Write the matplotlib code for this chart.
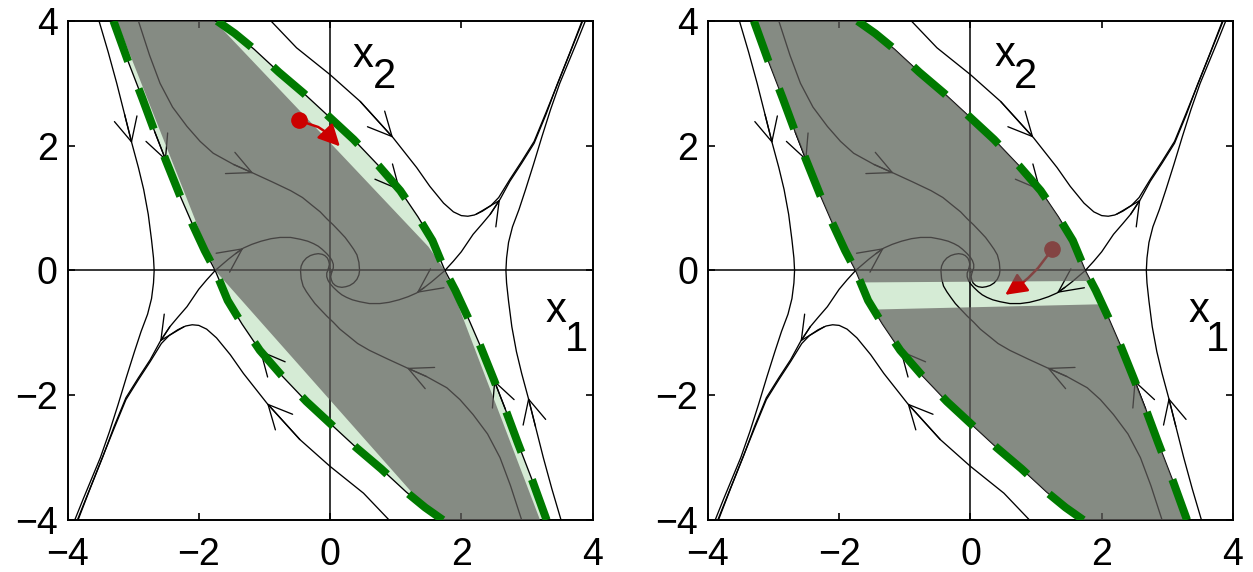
import numpy as np
import matplotlib.pyplot as plt
from matplotlib.patches import Polygon

plt.rcParams['font.family'] = ['Liberation Sans Narrow', 'Liberation Sans', 'DejaVu Sans']
plt.rcParams['lines.scale_dashes'] = False

# ---- trajectories read off the phase portrait (x1, x2) ----
# outer curve on the left, top -> bottom
outer_l_x = [-3.52, -3.38, -3.25, -3.13, -3.02, -2.92, -2.84, -2.77, -2.72, -2.69, -2.68, -2.69, -2.72,
             -2.78, -2.88, -2.98, -3.10, -3.23, -3.36, -3.50, -3.63, -3.76, -3.89]
outer_l_y = [4.0, 3.5, 3.0, 2.5, 2.04, 1.65, 1.30, 0.90, 0.49, 0.20, 0.0, -0.20, -0.45,
             -0.70, -0.98, -1.30, -1.70, -2.15, -2.58, -3.0, -3.33, -3.66, -4.0]
# outer curve on the right, bottom -> top
outer_r_x = [3.52, 3.38, 3.25, 3.13, 3.02, 2.92, 2.84, 2.77, 2.72, 2.69, 2.68, 2.69, 2.72,
             2.78, 2.88, 2.98, 3.10, 3.23, 3.36, 3.50, 3.63, 3.76, 3.89]
outer_r_y = [-4.0, -3.5, -3.0, -2.5, -2.04, -1.65, -1.30, -0.90, -0.49, -0.20, 0.0, 0.20, 0.45,
             0.70, 0.98, 1.30, 1.70, 2.15, 2.58, 3.0, 3.33, 3.66, 4.0]

# unstable manifolds of the saddles, outward branches
unst_l_x = [-1.75, -1.88, -2.0, -2.18, -2.32, -2.44, -2.59, -2.74, -2.92, -3.11, -3.29, -3.46, -3.65, -3.84]
unst_l_y = [0.0, -0.15, -0.3, -0.58, -0.75, -0.90, -1.14, -1.43, -1.72, -2.04, -2.50, -2.98, -3.48, -4.0]
unst_r_x = [1.75, 1.88, 2.0, 2.18, 2.32, 2.44, 2.59, 2.74, 2.92, 3.11, 3.29, 3.46, 3.65, 3.84]
unst_r_y = [0.0, 0.15, 0.3, 0.58, 0.75, 0.90, 1.14, 1.43, 1.72, 2.04, 2.50, 2.98, 3.48, 4.0]

# humps that turn away near the saddles
hump_l_x = [0.90, 0.51, 0.0, -0.46, -0.96, -1.32, -1.52, -1.73, -1.88, -2.0, -2.10, -2.20, -2.32, -2.45,
            -2.57, -2.74, -2.92, -3.11, -3.29, -3.47, -3.66, -3.85]
hump_l_y = [-4.0, -3.57, -3.14, -2.71, -2.13, -1.65, -1.35, -1.08, -0.94, -0.88, -0.87, -0.89, -0.95, -1.04,
            -1.17, -1.46, -1.75, -2.07, -2.53, -3.0, -3.50, -4.0]
hump_r_x = [-0.90, -0.51, 0.0, 0.46, 0.96, 1.32, 1.52, 1.73, 1.88, 2.0, 2.10, 2.20, 2.32, 2.45,
            2.57, 2.74, 2.92, 3.11, 3.29, 3.47, 3.66, 3.85]
hump_r_y = [4.0, 3.57, 3.14, 2.71, 2.13, 1.65, 1.35, 1.08, 0.94, 0.88, 0.87, 0.89, 0.95, 1.04,
            1.17, 1.46, 1.75, 2.07, 2.53, 3.0, 3.50, 4.0]

# curves spiralling into the origin
spir_a_x = [-2.92, -2.75, -2.59, -2.40, -2.18, -1.98, -1.78, -1.47, -1.17, -0.88, -0.60, -0.42, -0.28, -0.15,
            -0.05, 0.05, 0.15, 0.23, 0.30, 0.36, 0.41, 0.44, 0.45, 0.44, 0.41, 0.36, 0.30, 0.24, 0.18,
            0.12, 0.08, 0.04, 0.02, 0.01, 0.02, 0.03]
spir_a_y = [4.0, 3.45, 3.0, 2.62, 2.31, 2.07, 1.88, 1.70, 1.56, 1.42, 1.28, 1.17, 1.05, 0.94,
            0.83, 0.73, 0.62, 0.53, 0.43, 0.34, 0.25, 0.13, 0.0, -0.07, -0.14, -0.20, -0.24, -0.26, -0.27,
            -0.26, -0.24, -0.20, -0.15, -0.10, -0.05, -0.02]
spir_b_x = [2.92, 2.75, 2.59, 2.40, 2.18, 1.98, 1.78, 1.47, 1.17, 0.88, 0.60, 0.42, 0.28, 0.15,
            0.05, -0.05, -0.15, -0.23, -0.30, -0.36, -0.41, -0.44, -0.45, -0.44, -0.41, -0.36, -0.30, -0.24, -0.18,
            -0.12, -0.08, -0.04, -0.02, -0.01, -0.02, -0.03]
spir_b_y = [-4.0, -3.45, -3.0, -2.62, -2.31, -2.07, -1.88, -1.70, -1.56, -1.42, -1.28, -1.17, -1.05, -0.94,
            -0.83, -0.73, -0.62, -0.53, -0.43, -0.34, -0.25, -0.13, 0.0, 0.07, 0.14, 0.20, 0.24, 0.26, 0.27,
            0.26, 0.24, 0.20, 0.15, 0.10, 0.05, 0.02]
spir_c_x = [-1.75, -1.65, -1.55, -1.44, -1.32, -1.19, -1.05, -0.90, -0.76, -0.60, -0.45, -0.34, -0.25, -0.18,
            -0.12, -0.05, 0.0, 0.03, 0.05, 0.05, 0.03, 0.0]
spir_c_y = [0.0, 0.09, 0.18, 0.27, 0.36, 0.42, 0.47, 0.51, 0.53, 0.53, 0.50, 0.47, 0.43, 0.39,
            0.34, 0.27, 0.21, 0.16, 0.10, 0.04, -0.01, -0.03]
spir_d_x = [1.75, 1.65, 1.55, 1.44, 1.32, 1.19, 1.05, 0.90, 0.76, 0.60, 0.45, 0.34, 0.25, 0.18,
            0.12, 0.05, 0.0, -0.03, -0.05, -0.05, -0.03, 0.0]
spir_d_y = [0.0, -0.09, -0.18, -0.27, -0.36, -0.42, -0.47, -0.51, -0.53, -0.53, -0.50, -0.47, -0.43, -0.39,
            -0.34, -0.27, -0.21, -0.16, -0.10, -0.04, 0.01, 0.03]

# stable manifolds = boundary of the region of attraction
sl_up_x = [-3.30, -3.08, -2.86, -2.67, -2.50, -2.29, -2.10, -1.91, -1.75]
sl_up_y = [4.0, 3.36, 2.76, 2.22, 1.76, 1.21, 0.75, 0.32, 0.0]
sl_low_x = [1.72, 1.45, 1.16, 0.78, 0.40, 0.02, -0.36, -0.74, -1.07, -1.34, -1.56, -1.75]
sl_low_y = [-4.0, -3.80, -3.55, -3.18, -2.84, -2.47, -2.10, -1.68, -1.28, -0.86, -0.48, 0.0]
sr_up_x = [-1.72, -1.45, -1.16, -0.78, -0.40, -0.02, 0.36, 0.74, 1.07, 1.34, 1.56, 1.75]
sr_up_y = [4.0, 3.80, 3.55, 3.18, 2.84, 2.47, 2.10, 1.68, 1.28, 0.86, 0.48, 0.0]
sr_low_x = [3.30, 3.08, 2.86, 2.67, 2.50, 2.29, 2.10, 1.91, 1.75]
sr_low_y = [-4.0, -3.36, -2.76, -2.22, -1.76, -1.21, -0.75, -0.32, 0.0]

# estimate of the region (left panel), polygon corners
est_l_x = [-3.25, -1.76, 0.0, 1.50, 1.75, 3.20, 1.62, -1.75]
est_l_y = [4.0, 4.0, 2.05, 0.38, 0.0, -4.0, -4.0, 0.0]
# right panel: everything except a strip below the x1 axis
strip_x = [-4.5, 4.5]
strip_top = [-0.21, -0.15]
strip_bot = [-0.70, -0.48]

# initial points and first step of the red trajectory
red_l_x = [-0.48, -0.35, -0.18, -0.05]
red_l_y = [2.41, 2.36, 2.30, 2.21]
red_l_tip = (0.15, 1.99)
red_r_x = [1.24, 1.16, 1.03, 0.88, 0.80]
red_r_y = [0.34, 0.22, 0.04, -0.12, -0.19]
red_r_tip = (0.53, -0.39)

ticks = [-4, -2, 0, 2, 4]

# (x, y, index of the arrow head)
streams = [
    (outer_l_x, outer_l_y, 4), (outer_r_x, outer_r_y, 4),
    (unst_l_x, unst_l_y, 6), (unst_r_x, unst_r_y, 6),
    (hump_l_x, hump_l_y, 4), (hump_r_x, hump_r_y, 4),
    (spir_a_x, spir_a_y, 8), (spir_b_x, spir_b_y, 8),
    (spir_c_x, spir_c_y, 4), (spir_d_x, spir_d_y, 4),
    (sl_up_x, sl_up_y, 4), (sl_low_x, sl_low_y, 8),
    (sr_up_x, sr_up_y, 8), (sr_low_x, sr_low_y, 4),
]
boundary = [(sl_up_x, sl_up_y), (sl_low_x, sl_low_y), (sr_up_x, sr_up_y), (sr_low_x, sr_low_y)]

# closed outline of the true region
region_x = sl_up_x + sl_low_x[::-1] + sr_low_x + sr_up_x[::-1]
region_y = sl_up_y + sl_low_y[::-1] + sr_low_y + sr_up_y[::-1]

green = '#007a00'
light_green = '#d5ebd5'
grey = '#646260'
red = '#cc0000'


def draw_common(ax):
    region = Polygon(np.column_stack([region_x, region_y]), closed=True,
                     fc=light_green, ec='none', zorder=1)
    ax.add_patch(region)
    ax.axhline(0, color='k', lw=1.1, zorder=2)
    ax.axvline(0, color='k', lw=1.1, zorder=2)
    for xs, ys, k in streams:
        ax.plot(xs, ys, color='k', lw=0.95, zorder=3, solid_joinstyle='round')
        ax.annotate('', xy=(xs[k], ys[k]), xytext=(xs[k - 1], ys[k - 1]),
                    arrowprops=dict(arrowstyle='->,head_length=0.45,head_width=0.22',
                                    color='k', lw=0.95, shrinkA=0, shrinkB=0,
                                    mutation_scale=38), zorder=3)
    for xs, ys in boundary:
        ax.plot(xs, ys, color=green, lw=5.8, dashes=(31, 21),
                dash_capstyle='butt', zorder=5)
    ax.set_xlim(-4, 4)
    ax.set_ylim(-4, 4)
    ax.set_xticks(ticks)
    ax.set_yticks(ticks)
    ax.tick_params(direction='in', top=True, right=True, length=5, width=1.2, labelsize=27)
    ax.tick_params(axis='x', pad=12)
    ax.tick_params(axis='y', pad=7)
    for s in ax.spines.values():
        s.set_linewidth(1.4)
    return region


def red_step(ax, xs, ys, tip, z):
    ax.plot(xs, ys, color=red, lw=1.8, zorder=z)
    ax.plot(xs[0], ys[0], 'o', color=red, ms=11, zorder=z)
    ax.annotate('', xy=tip, xytext=(xs[-1], ys[-1]),
                arrowprops=dict(arrowstyle='-|>,head_length=0.6,head_width=0.3',
                                color=red, lw=1.8, shrinkA=0, shrinkB=0,
                                mutation_scale=22), zorder=z)


fig = plt.figure(figsize=(12.53, 5.72), dpi=100)
ax_l = fig.add_axes([0.0539, 0.0909, 0.419, 0.8724])
ax_r = fig.add_axes([0.565, 0.0909, 0.419, 0.8724])

# left panel
draw_common(ax_l)
ax_l.add_patch(Polygon(np.column_stack([est_l_x, est_l_y]), closed=True,
                       fc=grey, ec='none', alpha=0.7, zorder=4))
red_step(ax_l, red_l_x, red_l_y, red_l_tip, 6)
ax_l.text(0.35, 3.26, 'x', fontsize=30, zorder=7)
ax_l.text(0.66, 2.93, '2', fontsize=30, zorder=7)
ax_l.text(3.28, -0.82, 'x', fontsize=30, zorder=7)
ax_l.text(3.58, -1.29, '1', fontsize=30, zorder=7)

# right panel
reg = draw_common(ax_r)
red_step(ax_r, red_r_x, red_r_y, red_r_tip, 3.5)
upper = Polygon([[strip_x[0], 4.5], [strip_x[1], 4.5], [strip_x[1], strip_top[1]], [strip_x[0], strip_top[0]]],
                closed=True, fc=grey, ec='none', alpha=0.7, zorder=4)
lower = Polygon([[strip_x[0], strip_bot[0]], [strip_x[1], strip_bot[1]], [strip_x[1], -4.5], [strip_x[0], -4.5]],
                closed=True, fc=grey, ec='none', alpha=0.7, zorder=4)
for p in (upper, lower):
    ax_r.add_patch(p)
    p.set_clip_path(reg)
ax_r.text(0.37, 3.28, 'x', fontsize=30, zorder=7)
ax_r.text(0.66, 2.92, '2', fontsize=30, zorder=7)
ax_r.text(3.32, -0.82, 'x', fontsize=30, zorder=7)
ax_r.text(3.59, -1.29, '1', fontsize=30, zorder=7)

fig.savefig('out.png', dpi=100)
